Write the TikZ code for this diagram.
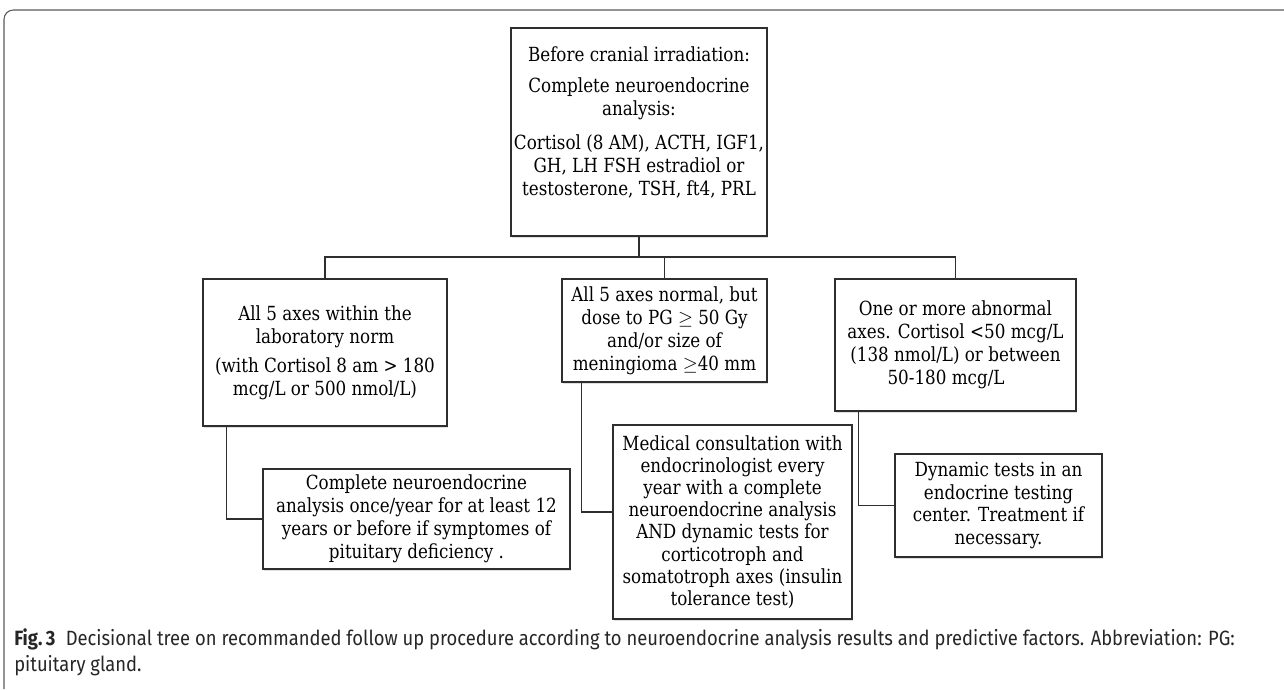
\documentclass[tikz,border=0pt]{standalone}
\usepackage{fontspec}
\usepackage{xcolor}
\usepackage{tikz}
\usetikzlibrary{positioning, shadows}
\setmainfont{DejaVu Serif}[FakeStretch=0.86]
\newfontfamily\capfont{Fira Sans}[FakeStretch=0.89]
\newcommand\pxu{0.75pt}
\definecolor{lineink}{HTML}{2E2E2E}
\definecolor{frameink}{HTML}{5A5A5A}

\begin{document}
\begin{tikzpicture}[
            x=0.75pt, y=-0.75pt,
            decbox/.style={rectangle, draw=lineink, line width=0.9pt, fill=white, inner sep=0pt,
                align=center, font=\fontsize{14.6pt}{17.2pt}\selectfont,
                drop shadow={shadow xshift=1pt, shadow yshift=-1.2pt, opacity=0.25, fill=gray}},
            link/.style={draw=lineink, line width=1.1pt}
        ]
        \useasboundingbox (0,0) rectangle (1284,689);

        % frame of the figure
        \draw[frameink, line width=0.8pt, rounded corners=7pt] (4,689) -- (4,10) -- (1284,10);

        % root
        \node[decbox, minimum width=256*\pxu, minimum height=208*\pxu] (root) at (639,132)
            {Before cranial irradiation:\\[6pt]
             Complete neuroendocrine\\ analysis:\\[8pt]
             Cortisol (8 AM), ACTH, IGF1,\\ GH, LH FSH estradiol or\\ testosterone, TSH, ft4, PRL\\[-1pt]~};

        % first level
        \node[decbox, minimum width=244*\pxu, minimum height=147*\pxu] (normbox) at (325,352.5)
            {All 5 axes within the\\ laboratory norm\\[4.5pt]
             (with Cortisol 8 am > 180\\ mcg/L or 500 nmol/L)};
        \node[decbox, minimum width=205*\pxu, minimum height=103*\pxu] (dosebox) at (664.5,330.5)
            {All 5 axes normal, but\\ dose to PG $\geq$ 50 Gy\\ and/or size of\\ meningioma $\geq$40 mm};
        \node[decbox, minimum width=241*\pxu, minimum height=132*\pxu] (abnbox) at (955.5,345)
            {One or more abnormal\\ axes. Cortisol <50 mcg/L\\ (138 nmol/L) or between\\ 50-180 mcg/L\phantom{xx}};

        % second level
        \node[decbox, minimum width=307*\pxu, minimum height=100*\pxu] (yearbox) at (416.5,519)
            {Complete neuroendocrine\\ analysis once/year for at least 12\\ years or before if symptomes of\\ pituitary deficiency .};
        \node[decbox, minimum width=239*\pxu, minimum height=194*\pxu,
              font=\fontsize{14.6pt}{16.6pt}\selectfont] (consultbox) at (732.5,522)
            {Medical consultation with\\ endocrinologist every\\ year with a complete\\ neuroendocrine analysis\\
             AND dynamic tests for\\ corticotroph and\\ somatotroph axes (insulin\\ tolerance test)};
        \node[decbox, minimum width=207*\pxu, minimum height=103*\pxu] (dynbox) at (998.5,505.5)
            {Dynamic tests in an\\ endocrine testing\\ center. Treatment if\\ necessary.};

        % connectors
        \coordinate (fork) at (639,257);
        \draw[link] (root.south) -- (fork);
        \draw[link] (normbox.north) |- (fork) -| (abnbox.north);
        \draw[link] (fork -| dosebox.north) -- (dosebox.north);
        \draw[link] ([xshift=24*\pxu]normbox.south west) |- (yearbox.west);
        \draw[link] ([xshift=20*\pxu]dosebox.south west) |- ([yshift=7.5pt]consultbox.west);
        \draw[link] ([xshift=24*\pxu]abnbox.south west) |- (dynbox.west);

        % caption
        \node[anchor=north west, align=left, inner sep=0pt, text=black!85,
              font=\capfont\fontsize{15.5pt}{20.2pt}\selectfont] (caption) at (14,628)
            {\textbf{Fig.\,3}\enspace Decisional tree on recommanded follow up procedure according to neuroendocrine analysis results and predictive factors. Abbreviation: PG:\\
             pituitary gland.};

    \end{tikzpicture}
\end{document}
